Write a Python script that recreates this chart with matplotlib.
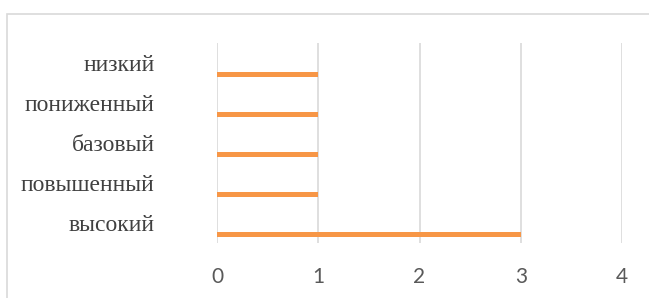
import matplotlib
matplotlib.use('Agg')
import matplotlib.pyplot as plt
from matplotlib.patches import Rectangle

# данные
categories = ['высокий', 'повышенный', 'базовый', 'пониженный', 'низкий']
values = [3, 1, 1, 1, 1]
x_ticks = [0, 1, 2, 3, 4]

W, H = 649, 298
fig = plt.figure(figsize=(W / 100, H / 100), dpi=100)
fig.patch.set_facecolor('white')

# рамка области диаграммы (обрезана справа и снизу)
fig.patches.append(Rectangle((7 / W, -0.1), 1.2, 1 - 14 / H + 0.1,
                             transform=fig.transFigure, fill=False,
                             edgecolor='#d9d9d9', linewidth=1.2))

# область построения
left, right = 217 / W, 622 / W
top, bottom = 1 - 43 / H, 1 - 243 / H
ax = fig.add_axes([left, bottom, right - left, top - bottom])

pos = list(range(len(categories)))
bar_pos = [p - 0.29 for p in pos]
ax.barh(bar_pos, values, height=0.14, color='#F79646', zorder=3)

ax.set_xlim(0, 4)
ax.set_ylim(-0.5, len(categories) - 0.5)
ax.set_xticks(x_ticks)
ax.set_xticklabels([str(t) for t in x_ticks], family='Lato',
                   fontsize=15, color='#595959')
ax.set_yticks(pos)
ax.set_yticklabels(categories, family='Liberation Serif', fontsize=17,
                   color='#404040')

ax.grid(axis='x', color='#d9d9d9', linewidth=1.2, zorder=0)
for s in ax.spines.values():
    s.set_visible(False)
ax.tick_params(axis='x', length=0, pad=17)
ax.tick_params(axis='y', length=0, pad=45)

fig.savefig('out.png', dpi=100, facecolor='white')
